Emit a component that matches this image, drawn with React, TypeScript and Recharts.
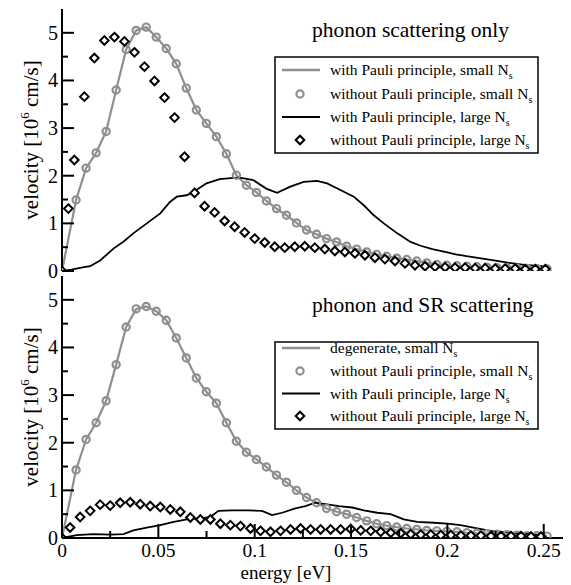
import React from 'react';
import { ComposedChart, Line, Scatter, XAxis, YAxis, Customized } from 'recharts';

const FONT = 'Liberation Serif, serif';
const GRAY = '#8f8f8f';

// ---------- ticks ----------
const xTicks = [0, 0.025, 0.05, 0.075, 0.1, 0.125, 0.15, 0.175, 0.2, 0.225, 0.25];
const yTicks = [0, 0.5, 1, 1.5, 2, 2.5, 3, 3.5, 4, 4.5, 5];
const xDomain = [0, 0.26];
const yDomain = [0, 5.5];

// ---------- top panel: phonon scattering only ----------
const topCircX = [0.0073, 0.0125, 0.0177, 0.0229, 0.0281, 0.0333, 0.0385, 0.0437, 0.0489, 0.0541, 0.0593, 0.0645, 0.0697, 0.0749, 0.0801, 0.0853, 0.0905, 0.0957, 0.1009, 0.1061, 0.1113, 0.1165, 0.1217, 0.1269, 0.1321, 0.1373, 0.1425, 0.1477, 0.1529, 0.1581, 0.1633, 0.1685, 0.1737, 0.1789, 0.1841, 0.1893, 0.1945, 0.1997, 0.2049, 0.2101, 0.2153, 0.2205, 0.2257, 0.2309, 0.2361, 0.2413, 0.2465, 0.2517];
const topCircY = [1.49, 2.16, 2.48, 2.93, 3.80, 4.65, 5.05, 5.12, 4.91, 4.67, 4.35, 3.84, 3.38, 3.10, 2.82, 2.46, 2.01, 1.80, 1.65, 1.47, 1.31, 1.17, 1.01, 0.86, 0.77, 0.68, 0.61, 0.52, 0.46, 0.40, 0.35, 0.31, 0.27, 0.24, 0.21, 0.17, 0.14, 0.12, 0.11, 0.10, 0.09, 0.08, 0.07, 0.065, 0.06, 0.055, 0.05, 0.045];

const topPauliSmallX = [0, ...topCircX];
const topPauliSmallY = [0, ...topCircY];

const topPauliLargeX = [0, 0.005, 0.01, 0.0146, 0.0198, 0.0267, 0.032, 0.037, 0.044, 0.051, 0.056, 0.0596, 0.0647, 0.0682, 0.075, 0.0819, 0.0875, 0.0923, 0.0992, 0.106, 0.1116, 0.1185, 0.1254, 0.1324, 0.1376, 0.1445, 0.1514, 0.1566, 0.1618, 0.167, 0.174, 0.1809, 0.1861, 0.1922, 0.2, 0.2043, 0.21, 0.2182, 0.225, 0.232, 0.24, 0.2494];
const topPauliLargeY = [0, 0.03, 0.07, 0.1, 0.22, 0.47, 0.62, 0.79, 1.0, 1.21, 1.45, 1.56, 1.59, 1.66, 1.84, 1.93, 1.95, 1.96, 1.91, 1.73, 1.64, 1.77, 1.87, 1.89, 1.84, 1.70, 1.56, 1.38, 1.17, 1.0, 0.79, 0.61, 0.53, 0.46, 0.39, 0.35, 0.31, 0.26, 0.22, 0.17, 0.13, 0.10];

const topDiaX = [0, 0.0033, 0.0064, 0.0116, 0.0168, 0.022, 0.0272, 0.0324, 0.0376, 0.0428, 0.048, 0.0532, 0.0584, 0.0636, 0.0688, 0.074, 0.0792, 0.0844, 0.0896, 0.0948, 0.1, 0.1052, 0.1104, 0.1156, 0.1208, 0.126, 0.1312, 0.1364, 0.1416, 0.1468, 0.152, 0.1572, 0.1624, 0.1676, 0.1728, 0.178, 0.1832, 0.1884, 0.1936, 0.1988, 0.204, 0.2092, 0.2144, 0.2196, 0.2248, 0.23, 0.2352, 0.2404, 0.2456, 0.2508];
const topDiaY = [0, 1.31, 2.33, 3.66, 4.47, 4.84, 4.91, 4.82, 4.59, 4.29, 3.99, 3.64, 3.22, 2.40, 1.64, 1.36, 1.23, 1.05, 0.93, 0.81, 0.68, 0.60, 0.51, 0.49, 0.51, 0.52, 0.49, 0.46, 0.42, 0.40, 0.37, 0.33, 0.28, 0.25, 0.21, 0.16, 0.12, 0.10, 0.09, 0.08, 0.07, 0.07, 0.06, 0.06, 0.05, 0.05, 0.05, 0.04, 0.04, 0.04];

// ---------- bottom panel: phonon and SR scattering ----------
const botCircX = [0.0073, 0.0125, 0.0177, 0.0229, 0.0281, 0.0333, 0.0385, 0.0437, 0.0489, 0.0541, 0.0593, 0.0645, 0.0697, 0.0749, 0.0801, 0.0853, 0.0905, 0.0957, 0.1009, 0.1061, 0.1113, 0.1165, 0.1217, 0.1269, 0.1321, 0.1373, 0.1425, 0.1477, 0.1529, 0.1581, 0.1633, 0.1685, 0.1737, 0.1789, 0.1841, 0.1893, 0.1945, 0.1997, 0.2049, 0.2101, 0.2153, 0.2205, 0.2257, 0.2309, 0.2361, 0.2413, 0.2465, 0.2517];
const botCircY = [1.43, 2.07, 2.42, 2.88, 3.64, 4.43, 4.81, 4.86, 4.76, 4.57, 4.20, 3.78, 3.36, 3.07, 2.83, 2.42, 2.03, 1.80, 1.65, 1.49, 1.32, 1.17, 1.00, 0.85, 0.74, 0.62, 0.55, 0.50, 0.43, 0.36, 0.30, 0.26, 0.23, 0.20, 0.18, 0.16, 0.15, 0.14, 0.13, 0.11, 0.10, 0.09, 0.08, 0.07, 0.06, 0.05, 0.05, 0.04];

const botDegX = [0, ...botCircX];
const botDegY = [0, ...botCircY];

const botPauliLargeX = [0, 0.0076, 0.0163, 0.025, 0.032, 0.037, 0.044, 0.051, 0.058, 0.0648, 0.0717, 0.0769, 0.0812, 0.0882, 0.0968, 0.1038, 0.109, 0.1142, 0.1211, 0.1263, 0.1315, 0.1367, 0.1437, 0.1506, 0.1566, 0.1636, 0.1705, 0.1774, 0.1843, 0.193, 0.2, 0.2068, 0.2155, 0.2224, 0.2328, 0.243, 0.25];
const botPauliLargeY = [0, 0.06, 0.08, 0.07, 0.08, 0.16, 0.22, 0.27, 0.34, 0.39, 0.41, 0.44, 0.57, 0.58, 0.58, 0.57, 0.48, 0.53, 0.62, 0.67, 0.74, 0.71, 0.67, 0.64, 0.58, 0.53, 0.50, 0.39, 0.34, 0.32, 0.30, 0.27, 0.20, 0.15, 0.11, 0.08, 0.06];

const botDiaX = [0, 0.0042, 0.0094, 0.0146, 0.0198, 0.025, 0.0302, 0.0354, 0.0406, 0.0458, 0.051, 0.0562, 0.0614, 0.0666, 0.0718, 0.077, 0.0822, 0.0874, 0.0926, 0.0978, 0.103, 0.1082, 0.1134, 0.1186, 0.1238, 0.129, 0.1342, 0.1394, 0.1446, 0.1498, 0.155, 0.1602, 0.1654, 0.1706, 0.1758, 0.181, 0.1862, 0.1914, 0.1966, 0.2018, 0.207, 0.2122, 0.2174, 0.2226, 0.2278, 0.233, 0.2382, 0.2434, 0.2486];
const botDiaY = [0, 0.22, 0.44, 0.57, 0.70, 0.68, 0.74, 0.75, 0.71, 0.67, 0.65, 0.60, 0.55, 0.43, 0.39, 0.39, 0.30, 0.27, 0.25, 0.20, 0.15, 0.13, 0.15, 0.18, 0.20, 0.18, 0.18, 0.18, 0.18, 0.19, 0.16, 0.15, 0.13, 0.11, 0.10, 0.08, 0.07, 0.07, 0.06, 0.06, 0.05, 0.05, 0.05, 0.04, 0.04, 0.04, 0.04, 0.03, 0.03];

// ---------- text ----------
const topTitle = 'phonon scattering only';
const botTitle = 'phonon and SR scattering';
const topLegendLabels = ['with Pauli principle, small N', 'without Pauli principle, small N', 'with Pauli principle, large N', 'without Pauli principle, large N'];
const botLegendLabels = ['degenerate, small N', 'without Pauli principle, small N', 'with Pauli principle, large N', 'without Pauli principle, large N'];
const legendSymbols = ['grayLine', 'grayCircle', 'blackLine', 'diamond'];
const xLabel = 'energy [eV]';

const zip = (xs: number[], ys: number[]) => xs.map((x, i) => ({ x, y: ys[i] }));

const isMajorX = (v: number) => Math.abs(v / 0.05 - Math.round(v / 0.05)) < 1e-6;
const isMajorY = (v: number) => Math.abs(v - Math.round(v)) < 1e-6;

const txt = { fontFamily: FONT };

const LeftTick = (props: any) => {
  const { x, y, payload } = props;
  const v = payload.value;
  const major = isMajorY(v);
  return (
    <g>
      <line x1={x} x2={x + (major ? 12 : 6)} y1={y} y2={y} stroke="#000" strokeWidth={2} />
      {major && (
        <text x={x - 4} y={y} dy="0.35em" textAnchor="end" fontSize={20} style={txt} fill="#000">
          {String(v)}
        </text>
      )}
    </g>
  );
};

const RightTick = (props: any) => {
  const { x, y, payload } = props;
  const major = isMajorY(payload.value);
  return <line x1={x} x2={x - (major ? 12 : 6)} y1={y} y2={y} stroke="#000" strokeWidth={2} />;
};

const TopTick = (props: any) => {
  const { x, y, payload } = props;
  const major = isMajorX(payload.value);
  return <line x1={x} x2={x} y1={y} y2={y + (major ? 14 : 7)} stroke="#000" strokeWidth={2} />;
};

const BottomTick = (props: any) => {
  const { x, y, payload } = props;
  const v = payload.value;
  const major = isMajorX(v);
  return (
    <g>
      <line x1={x} x2={x} y1={y} y2={y - (major ? 14 : 7)} stroke="#000" strokeWidth={2} />
      {major && (
        <text x={x} y={y + 19} textAnchor="middle" fontSize={19.5} style={txt} fill="#000">
          {String(v)}
        </text>
      )}
    </g>
  );
};

const CircleShape = (props: any) => {
  const { cx, cy } = props;
  if (cx == null || cy == null) return null;
  return <circle cx={cx} cy={cy} r={3.6} fill="none" stroke={GRAY} strokeWidth={2.2} />;
};

const diamondPath = (cx: number, cy: number, r: number) =>
  `M${cx},${cy - r}L${cx + r},${cy}L${cx},${cy + r}L${cx - r},${cy}Z`;

const DiamondShape = (props: any) => {
  const { cx, cy } = props;
  if (cx == null || cy == null) return null;
  return <path d={diamondPath(cx, cy, 4.3)} fill="#fff" stroke="#000" strokeWidth={2} />;
};

const LegendSymbol = ({ kind, cy }: { kind: string; cy: number }) => {
  if (kind === 'grayLine') return <line x1={282} x2={320} y1={cy} y2={cy} stroke={GRAY} strokeWidth={2.4} />;
  if (kind === 'blackLine') return <line x1={282} x2={320} y1={cy} y2={cy} stroke="#000" strokeWidth={2} />;
  if (kind === 'grayCircle') return <circle cx={300} cy={cy} r={3.6} fill="none" stroke={GRAY} strokeWidth={2.2} />;
  return <path d={diamondPath(300, cy, 4.3)} fill="#fff" stroke="#000" strokeWidth={2} />;
};

const Overlay = ({ title, titleY, labels, boxY, boxH, rowYs, ylabelY }: any) => (
  <g>
    <text x={312} y={titleY} fontSize={21.5} style={txt} fill="#000">{title}</text>
    <rect x={275} y={boxY} width={263} height={boxH} fill="#fff" stroke="#000" strokeWidth={1.5} />
    {labels.map((lab: string, i: number) => (
      <g key={i}>
        <LegendSymbol kind={legendSymbols[i]} cy={rowYs[i]} />
        <text x={330} y={rowYs[i] + 5} fontSize={15.5} style={txt} fill="#000">
          {lab}
          <tspan fontSize={10} dy={4}>s</tspan>
        </text>
      </g>
    ))}
    <text
      x={38}
      y={ylabelY}
      transform={`rotate(-90 38 ${ylabelY})`}
      textAnchor="middle"
      fontSize={21}
      style={txt}
      fill="#000"
    >
      velocity [10<tspan fontSize={13} dy={-9}>6</tspan>
      <tspan dy={9}> cm/s]</tspan>
    </text>
  </g>
);

const axisLine = { stroke: '#000', strokeWidth: 2 };

const Panel = ({ series, overlay, bottom }: any) => (
  <ComposedChart
    width={571}
    height={bottom ? 318 : 290}
    margin={{ top: 9, right: 8, bottom: bottom ? 0 : 19, left: 0 }}
    style={{ fontFamily: FONT }}
  >
    <XAxis
      xAxisId={0}
      dataKey="x"
      type="number"
      domain={xDomain}
      ticks={xTicks}
      interval={0}
      allowDataOverflow
      height={bottom ? 47 : 0}
      tickSize={0}
      tickMargin={0}
      tickLine={false}
      axisLine={axisLine}
      tick={bottom ? BottomTick : false}
    />
    <XAxis
      xAxisId="top"
      orientation="top"
      type="number"
      domain={xDomain}
      ticks={xTicks}
      interval={0}
      allowDataOverflow
      height={0}
      tickSize={0}
      tickMargin={0}
      tickLine={false}
      axisLine={axisLine}
      tick={bottom ? TopTick : false}
    />
    <YAxis
      yAxisId={0}
      dataKey="y"
      type="number"
      domain={yDomain}
      ticks={yTicks}
      interval={0}
      allowDataOverflow
      width={62}
      tickSize={0}
      tickMargin={0}
      tickLine={false}
      axisLine={axisLine}
      tick={LeftTick}
    />
    <YAxis
      yAxisId="right"
      orientation="right"
      type="number"
      domain={yDomain}
      ticks={yTicks}
      interval={0}
      allowDataOverflow
      width={0}
      tickSize={0}
      tickMargin={0}
      tickLine={false}
      axisLine={axisLine}
      tick={RightTick}
    />
    <Line data={series.grayLine} dataKey="y" stroke={GRAY} strokeWidth={2.2} dot={false} isAnimationActive={false} type="linear" />
    <Scatter data={series.circles} dataKey="y" shape={CircleShape} isAnimationActive={false} />
    <Line data={series.blackLine} dataKey="y" stroke="#000" strokeWidth={1.8} dot={false} isAnimationActive={false} type="linear" />
    <Scatter data={series.diamonds} dataKey="y" shape={DiamondShape} isAnimationActive={false} />
    <Customized component={() => overlay} />
  </ComposedChart>
);

export default function App() {
  const topSeries = {
    grayLine: zip(topPauliSmallX, topPauliSmallY),
    circles: zip(topCircX, topCircY),
    blackLine: zip(topPauliLargeX, topPauliLargeY),
    diamonds: zip(topDiaX, topDiaY),
  };
  const botSeries = {
    grayLine: zip(botDegX, botDegY),
    circles: zip(botCircX, botCircY),
    blackLine: zip(botPauliLargeX, botPauliLargeY),
    diamonds: zip(botDiaX, botDiaY),
  };
  const topOverlay = (
    <Overlay title={topTitle} titleY={37} labels={topLegendLabels} boxY={57} boxH={96} rowYs={[70, 94, 117, 140]} ylabelY={140} />
  );
  const botOverlay = (
    <g>
      <Overlay title={botTitle} titleY={45} labels={botLegendLabels} boxY={75} boxH={87} rowYs={[81, 104, 126.5, 149]} ylabelY={140} />
      <text x={286} y={312} textAnchor="middle" fontSize={19} style={txt} fill="#000">{xLabel}</text>
    </g>
  );
  return (
    <div style={{ position: 'absolute', left: 0, top: 0, width: 571, height: 585, background: '#fff', fontFamily: FONT }}>
      <div style={{ position: 'absolute', left: 0, top: 0 }}>
        <Panel series={topSeries} overlay={topOverlay} bottom={false} />
      </div>
      <div style={{ position: 'absolute', left: 0, top: 267 }}>
        <Panel series={botSeries} overlay={botOverlay} bottom={true} />
      </div>
    </div>
  );
}
